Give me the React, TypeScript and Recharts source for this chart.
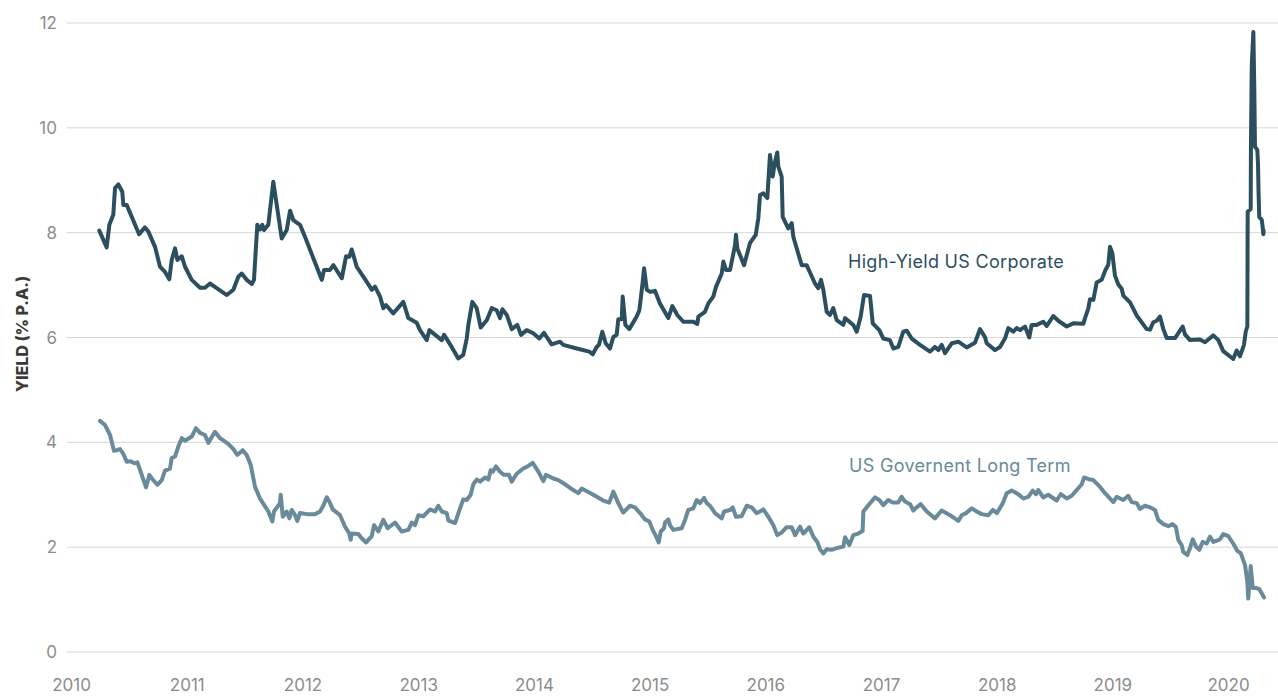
import { LineChart, Line, XAxis, YAxis, CartesianGrid, Customized } from "recharts";

// High-yield US corporate bonds, yield % p.a. (decimal year, value)
const hyDates = [
  2010.239, 2010.303, 2010.326, 2010.36, 2010.375, 2010.404, 2010.438, 2010.447, 2010.476, 2010.583,
  2010.634, 2010.663, 2010.721, 2010.764, 2010.807, 2010.844, 2010.865, 2010.894, 2010.914, 2010.952,
  2010.98, 2011.038, 2011.11, 2011.153, 2011.196, 2011.254, 2011.341, 2011.398, 2011.441, 2011.47,
  2011.513, 2011.557, 2011.576, 2011.605, 2011.628, 2011.648, 2011.663, 2011.7, 2011.743, 2011.816,
  2011.859, 2011.888, 2011.916, 2011.974, 2012.017, 2012.162, 2012.182, 2012.233, 2012.262, 2012.335,
  2012.372, 2012.4, 2012.421, 2012.464, 2012.551, 2012.594, 2012.622, 2012.666, 2012.694, 2012.717,
  2012.78, 2012.867, 2012.91, 2012.983, 2013.011, 2013.069, 2013.092, 2013.199, 2013.219, 2013.285,
  2013.342, 2013.385, 2013.415, 2013.429, 2013.463, 2013.501, 2013.536, 2013.588, 2013.631, 2013.674,
  2013.703, 2013.723, 2013.761, 2013.804, 2013.852, 2013.884, 2013.933, 2013.99, 2014.042, 2014.083,
  2014.106, 2014.149, 2014.221, 2014.25, 2014.366, 2014.474, 2014.504, 2014.538, 2014.558, 2014.587,
  2014.616, 2014.653, 2014.682, 2014.711, 2014.725, 2014.755, 2014.763, 2014.786, 2014.82, 2014.884,
  2014.907, 2014.936, 2014.948, 2014.971, 2015.0, 2015.042, 2015.085, 2015.157, 2015.192, 2015.235,
  2015.287, 2015.373, 2015.408, 2015.417, 2015.474, 2015.503, 2015.546, 2015.57, 2015.619, 2015.633,
  2015.656, 2015.691, 2015.734, 2015.742, 2015.754, 2015.812, 2015.863, 2015.913, 2015.935, 2015.95,
  2015.978, 2016.013, 2016.036, 2016.059, 2016.079, 2016.099, 2016.108, 2016.137, 2016.146, 2016.194,
  2016.224, 2016.238, 2016.31, 2016.353, 2016.425, 2016.454, 2016.477, 2016.497, 2016.526, 2016.555,
  2016.583, 2016.613, 2016.67, 2016.685, 2016.756, 2016.786, 2016.82, 2016.849, 2016.901, 2016.924,
  2016.981, 2017.016, 2017.073, 2017.102, 2017.145, 2017.188, 2017.218, 2017.261, 2017.333, 2017.419,
  2017.462, 2017.491, 2017.52, 2017.549, 2017.607, 2017.664, 2017.736, 2017.808, 2017.851, 2017.894,
  2017.909, 2017.981, 2018.024, 2018.067, 2018.096, 2018.139, 2018.168, 2018.197, 2018.24, 2018.277,
  2018.298, 2018.341, 2018.398, 2018.428, 2018.485, 2018.528, 2018.601, 2018.658, 2018.744, 2018.759,
  2018.787, 2018.802, 2018.831, 2018.86, 2018.903, 2018.932, 2018.96, 2018.975, 2018.995, 2019.018,
  2019.047, 2019.076, 2019.09, 2019.148, 2019.206, 2019.292, 2019.321, 2019.349, 2019.379, 2019.407,
  2019.436, 2019.465, 2019.537, 2019.603, 2019.623, 2019.666, 2019.753, 2019.796, 2019.868, 2019.911,
  2019.954, 2020.04, 2020.07, 2020.098, 2020.133, 2020.148, 2020.162, 2020.165, 2020.191, 2020.193,
  2020.2, 2020.214, 2020.222, 2020.228, 2020.248, 2020.254, 2020.259, 2020.265, 2020.287, 2020.294,
  2020.3, 2020.303,
];
const hyYields = [
  8.04, 7.72, 8.15, 8.34, 8.85, 8.92, 8.78, 8.53, 8.53, 7.97,
  8.1, 8.02, 7.73, 7.35, 7.25, 7.11, 7.48, 7.7, 7.48, 7.55,
  7.35, 7.1, 6.95, 6.95, 7.03, 6.94, 6.81, 6.91, 7.16, 7.22,
  7.1, 7.02, 7.1, 8.15, 8.06, 8.15, 8.05, 8.15, 8.97, 7.89,
  8.05, 8.42, 8.24, 8.15, 7.92, 7.1, 7.29, 7.29, 7.38, 7.13,
  7.55, 7.54, 7.68, 7.35, 7.06, 6.91, 6.97, 6.78, 6.56, 6.62,
  6.46, 6.68, 6.37, 6.28, 6.14, 5.95, 6.14, 5.95, 6.05, 5.82,
  5.6, 5.67, 5.98, 6.24, 6.68, 6.56, 6.19, 6.33, 6.56, 6.52,
  6.37, 6.54, 6.43, 6.16, 6.24, 6.05, 6.14, 6.08, 5.98, 6.09,
  6.01, 5.87, 5.92, 5.86, 5.79, 5.73, 5.68, 5.82, 5.86, 6.11,
  5.89, 5.79, 6.01, 6.05, 6.35, 6.35, 6.78, 6.24, 6.16, 6.4,
  6.52, 7.06, 7.32, 6.91, 6.87, 6.89, 6.65, 6.37, 6.6, 6.43,
  6.3, 6.3, 6.26, 6.4, 6.49, 6.65, 6.78, 6.97, 7.22, 7.45,
  7.29, 7.29, 7.76, 7.96, 7.7, 7.38, 7.8, 7.96, 8.27, 8.72,
  8.75, 8.66, 9.48, 9.07, 9.35, 9.53, 9.26, 9.07, 8.3, 8.08,
  8.18, 7.92, 7.38, 7.38, 7.03, 6.94, 7.1, 6.91, 6.49, 6.43,
  6.56, 6.33, 6.24, 6.37, 6.24, 6.11, 6.4, 6.81, 6.79, 6.27,
  6.14, 5.98, 5.95, 5.79, 5.82, 6.11, 6.13, 5.98, 5.86, 5.73,
  5.82, 5.76, 5.86, 5.7, 5.89, 5.92, 5.81, 5.9, 6.16, 6.01,
  5.89, 5.76, 5.82, 5.98, 6.18, 6.11, 6.18, 6.14, 6.21, 6.0,
  6.24, 6.24, 6.3, 6.22, 6.41, 6.32, 6.21, 6.27, 6.26, 6.37,
  6.55, 6.73, 6.72, 7.05, 7.1, 7.27, 7.39, 7.73, 7.61, 7.18,
  7.01, 6.93, 6.8, 6.67, 6.42, 6.16, 6.15, 6.29, 6.32, 6.4,
  6.16, 5.99, 5.99, 6.21, 6.06, 5.95, 5.96, 5.91, 6.04, 5.95,
  5.74, 5.59, 5.75, 5.64, 5.86, 6.11, 6.21, 8.4, 8.45, 9.64,
  11.17, 11.83, 10.78, 9.64, 9.58, 9.32, 8.76, 8.3, 8.24, 8.11,
  7.97, 8.04,
];

// US government long-term bonds, yield % p.a.
const govDates = [
  2010.245, 2010.289, 2010.332, 2010.366, 2010.39, 2010.418, 2010.447, 2010.476, 2010.505, 2010.548,
  2010.568, 2010.606, 2010.643, 2010.672, 2010.701, 2010.741, 2010.779, 2010.807, 2010.85, 2010.865,
  2010.894, 2010.922, 2010.952, 2010.98, 2011.038, 2011.075, 2011.11, 2011.153, 2011.181, 2011.239,
  2011.283, 2011.354, 2011.398, 2011.432, 2011.479, 2011.513, 2011.548, 2011.585, 2011.628, 2011.7,
  2011.735, 2011.749, 2011.801, 2011.807, 2011.825, 2011.859, 2011.882, 2011.902, 2011.931, 2011.951,
  2011.974, 2012.032, 2012.104, 2012.147, 2012.175, 2012.205, 2012.227, 2012.257, 2012.32, 2012.363,
  2012.4, 2012.412, 2012.421, 2012.478, 2012.507, 2012.545, 2012.594, 2012.614, 2012.651, 2012.694,
  2012.732, 2012.795, 2012.853, 2012.91, 2012.94, 2012.968, 2012.997, 2013.04, 2013.098, 2013.141,
  2013.169, 2013.199, 2013.242, 2013.256, 2013.314, 2013.357, 2013.385, 2013.415, 2013.449, 2013.472,
  2013.501, 2013.53, 2013.573, 2013.602, 2013.622, 2013.64, 2013.668, 2013.703, 2013.737, 2013.78,
  2013.804, 2013.847, 2013.904, 2013.947, 2013.985, 2014.034, 2014.077, 2014.1, 2014.163, 2014.207,
  2014.264, 2014.336, 2014.379, 2014.409, 2014.509, 2014.595, 2014.647, 2014.682, 2014.725, 2014.768,
  2014.826, 2014.869, 2014.913, 2014.956, 2014.993, 2015.022, 2015.051, 2015.074, 2015.092, 2015.12,
  2015.129, 2015.157, 2015.172, 2015.2, 2015.273, 2015.302, 2015.33, 2015.373, 2015.403, 2015.431,
  2015.466, 2015.489, 2015.518, 2015.561, 2015.619, 2015.639, 2015.691, 2015.714, 2015.742, 2015.791,
  2015.835, 2015.878, 2015.921, 2015.95, 2015.978, 2016.022, 2016.065, 2016.099, 2016.137, 2016.18,
  2016.224, 2016.253, 2016.296, 2016.324, 2016.376, 2016.411, 2016.445, 2016.468, 2016.497, 2016.526,
  2016.569, 2016.626, 2016.67, 2016.685, 2016.722, 2016.756, 2016.799, 2016.837, 2016.843, 2016.886,
  2016.944, 2016.981, 2017.016, 2017.059, 2017.097, 2017.145, 2017.174, 2017.203, 2017.247, 2017.275,
  2017.304, 2017.339, 2017.391, 2017.462, 2017.52, 2017.592, 2017.664, 2017.693, 2017.731, 2017.78,
  2017.823, 2017.866, 2017.923, 2017.962, 2017.997, 2018.049, 2018.082, 2018.126, 2018.183, 2018.226,
  2018.269, 2018.307, 2018.335, 2018.355, 2018.398, 2018.441, 2018.514, 2018.549, 2018.601, 2018.644,
  2018.687, 2018.731, 2018.751, 2018.802, 2018.831, 2018.889, 2018.932, 2019.004, 2019.033, 2019.09,
  2019.133, 2019.162, 2019.206, 2019.234, 2019.277, 2019.321, 2019.364, 2019.392, 2019.436, 2019.479,
  2019.517, 2019.545, 2019.565, 2019.594, 2019.608, 2019.643, 2019.666, 2019.69, 2019.718, 2019.747,
  2019.776, 2019.811, 2019.839, 2019.868, 2019.926, 2019.954, 2019.997, 2020.04, 2020.075, 2020.104,
  2020.142, 2020.162, 2020.17, 2020.191, 2020.209, 2020.243, 2020.265, 2020.306,
];
const govYields = [
  4.41, 4.33, 4.14, 3.84, 3.85, 3.87, 3.78, 3.63, 3.64, 3.6,
  3.62, 3.38, 3.14, 3.38, 3.29, 3.19, 3.28, 3.46, 3.5, 3.7,
  3.73, 3.92, 4.08, 4.03, 4.11, 4.27, 4.18, 4.14, 3.99, 4.2,
  4.08, 3.97, 3.87, 3.76, 3.85, 3.76, 3.57, 3.15, 2.93, 2.68,
  2.49, 2.68, 2.84, 3.0, 2.58, 2.68, 2.55, 2.71, 2.61, 2.5,
  2.65, 2.63, 2.63, 2.68, 2.79, 2.95, 2.87, 2.72, 2.61, 2.39,
  2.26, 2.14, 2.26, 2.25, 2.17, 2.09, 2.21, 2.42, 2.3, 2.52,
  2.36, 2.47, 2.3, 2.33, 2.47, 2.42, 2.61, 2.59, 2.72, 2.68,
  2.79, 2.68, 2.65, 2.51, 2.46, 2.74, 2.91, 2.9, 3.0, 3.2,
  3.29, 3.25, 3.33, 3.29, 3.47, 3.44, 3.54, 3.44, 3.38, 3.38,
  3.25, 3.4, 3.5, 3.55, 3.61, 3.44, 3.26, 3.38, 3.31, 3.28,
  3.2, 3.09, 3.03, 3.12, 3.0, 2.89, 2.85, 3.06, 2.84, 2.66,
  2.79, 2.76, 2.65, 2.53, 2.49, 2.33, 2.21, 2.09, 2.3, 2.36,
  2.47, 2.53, 2.42, 2.33, 2.36, 2.52, 2.71, 2.74, 2.9, 2.84,
  2.94, 2.84, 2.79, 2.65, 2.55, 2.68, 2.71, 2.76, 2.58, 2.59,
  2.79, 2.76, 2.65, 2.68, 2.72, 2.58, 2.42, 2.23, 2.28, 2.38,
  2.38, 2.23, 2.39, 2.26, 2.38, 2.2, 2.1, 1.96, 1.88, 1.96,
  1.95, 1.99, 2.01, 2.19, 2.04, 2.23, 2.26, 2.31, 2.68, 2.8,
  2.95, 2.9, 2.8, 2.9, 2.85, 2.85, 2.96, 2.87, 2.82, 2.7,
  2.76, 2.82, 2.68, 2.55, 2.7, 2.61, 2.5, 2.61, 2.65, 2.74,
  2.68, 2.63, 2.61, 2.71, 2.65, 2.84, 3.03, 3.08, 3.01, 2.93,
  2.96, 3.08, 3.01, 3.09, 2.95, 3.0, 2.89, 3.01, 2.93, 2.98,
  3.09, 3.2, 3.33, 3.29, 3.28, 3.15, 3.03, 2.86, 2.96, 2.9,
  2.98, 2.86, 2.84, 2.73, 2.79, 2.76, 2.71, 2.52, 2.44, 2.4,
  2.44, 2.38, 2.14, 2.04, 1.91, 1.85, 1.98, 2.15, 2.01, 1.95,
  2.1, 2.07, 2.2, 2.1, 2.15, 2.25, 2.21, 2.07, 1.93, 1.89,
  1.66, 1.34, 1.02, 1.64, 1.22, 1.22, 1.2, 1.04,
];

const yearTicks = [2010, 2011, 2012, 2013, 2014, 2015, 2016, 2017, 2018, 2019, 2020];
const yieldTicks = [0, 2, 4, 6, 8, 10, 12];

const hyData = hyDates.map((t, i) => ({ t, v: hyYields[i] }));
const govData = govDates.map((t, i) => ({ t, v: govYields[i] }));

const FONT = "Inter, 'Open Sans', sans-serif";
const HY_COLOR = "#2c4f5f";
const GOV_COLOR = "#688a9a";

function Annotations() {
  return (
    <g style={{ fontFamily: FONT }}>
      <text x={22} y={334} transform="rotate(-90 22 334)" textAnchor="middle" dominantBaseline="central"
        fontSize={16} fontWeight={800} fill="#3a3a3a">
        YIELD (% P.A.)
      </text>
      <text x={848} y={268} fontSize={18} letterSpacing={0.3} fill={HY_COLOR}>High-Yield US Corporate</text>
      <text x={849} y={472} fontSize={18} letterSpacing={0.3} fill={GOV_COLOR}>US Governent Long Term</text>
    </g>
  );
}

export default function App() {
  return (
    <div style={{ position: "absolute", left: 0, top: 0, width: 1278, height: 697, background: "#fff" }}>
      <LineChart width={1278} height={697} margin={{ top: 23, right: 0, bottom: 0, left: 0 }}>
        <CartesianGrid vertical={false} stroke="#d6d6d6" />
        <XAxis
          type="number"
          dataKey="t"
          domain={[2009.96, 2020.427]}
          allowDataOverflow
          ticks={yearTicks}
          interval={0}
          axisLine={false}
          tickLine={false}
          tickMargin={21}
          height={45}
          tick={{ fill: "#8c8c8c", fontSize: 17, fontFamily: FONT }}
        />
        <YAxis
          type="number"
          domain={[0, 12]}
          ticks={yieldTicks}
          width={67}
          axisLine={false}
          tickLine={false}
          tickMargin={4}
          tick={{ fill: "#8c8c8c", fontSize: 17, fontFamily: FONT }}
        />
        <Line data={hyData} dataKey="v" stroke={HY_COLOR} strokeWidth={4} dot={false}
          strokeLinejoin="round" strokeLinecap="round" isAnimationActive={false} />
        <Line data={govData} dataKey="v" stroke={GOV_COLOR} strokeWidth={4} dot={false}
          strokeLinejoin="round" strokeLinecap="round" isAnimationActive={false} />
        <Customized component={Annotations} />
      </LineChart>
    </div>
  );
}
